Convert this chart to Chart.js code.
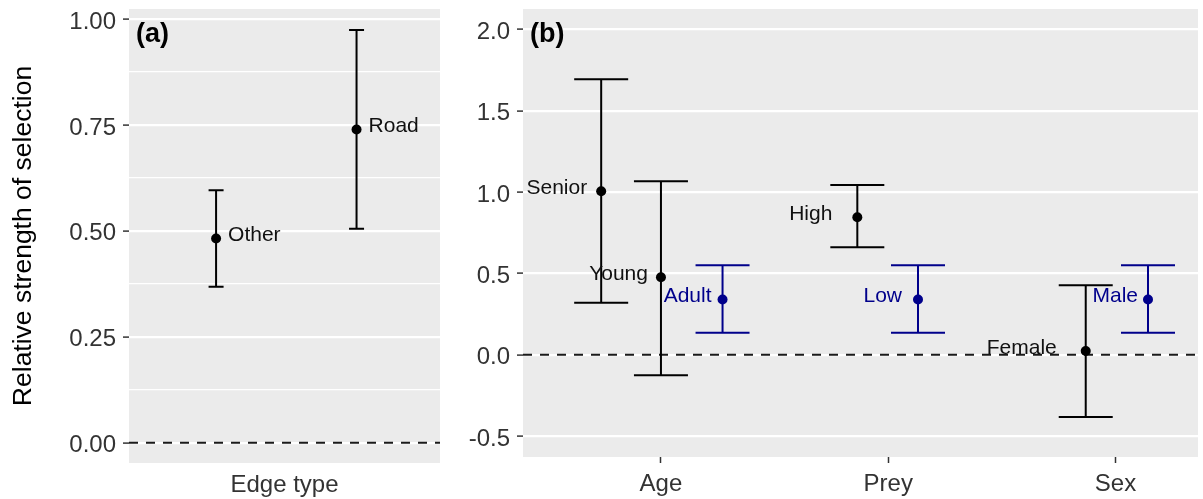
<!DOCTYPE html>
<html>
<head>
<meta charset="utf-8">
<script src="https://cdn.jsdelivr.net/npm/chart.js@4.4.1/dist/chart.umd.min.js"></script>
<style>
  html, body { margin: 0; padding: 0; background: #fff; }
  #wrap { position: relative; width: 1203px; height: 499px; }
  .panel { position: absolute; top: 0; height: 499px; }
  #panelA { left: 0; width: 460px; }
  #panelB { left: 460px; width: 743px; }
</style>
</head>
<body>
<div id="wrap">
  <div class="panel" id="panelA"><canvas id="edgeChart"></canvas></div>
  <div class="panel" id="panelB"><canvas id="factorChart"></canvas></div>
</div>
<script>
// (a) edge type
const edgeCategory = ['Edge type'];
const edgeLevels = ['Other', 'Road'];
const edgeEst = [0.482, 0.739];
const edgeLower = [0.368, 0.505];
const edgeUpper = [0.596, 0.974];
const edgeTicks = [0, 0.125, 0.25, 0.375, 0.5, 0.625, 0.75, 0.875, 1];

// (b) age / prey / sex
const factorCategories = ['Age', 'Prey', 'Sex'];
const levelNames = ['Senior', 'Young', 'Adult', 'High', 'Low', 'Female', 'Male'];
const levelFactor = [0, 0, 0, 1, 1, 2, 2];
const levelEst = [1.005, 0.477, 0.34, 0.845, 0.34, 0.023, 0.34];
const levelLower = [0.32, -0.125, 0.135, 0.661, 0.135, -0.382, 0.135];
const levelUpper = [1.693, 1.066, 0.55, 1.043, 0.55, 0.428, 0.55];
const levelIsRef = [false, false, true, false, true, false, true];
const factorTicks = [-0.5, 0, 0.5, 1, 1.5, 2];

// styling
const FONT = '"Liberation Sans", Arial, sans-serif';
const BLACK = '#000000';
const BLUE = '#00008B';
const TICK_TEXT = '#333333';
const edgeDodge = [-0.264, 0.278];
const levelDodge = [-0.263, 0, 0.271, -0.136, 0.131, -0.131, 0.143];
const levelLabelGap = [14, 13, 11, 25, 16, 29, 10];

const panelBackground = {
    id: 'panelBackground',
    beforeDraw(chart) {
        const { ctx, chartArea: a } = chart;
        ctx.save();
        ctx.fillStyle = '#EBEBEB';
        ctx.fillRect(a.left, a.top, a.right - a.left, a.bottom - a.top);
        ctx.restore();
    },
};

const zeroLine = {
    id: 'zeroLine',
    beforeDatasetsDraw(chart) {
        const { ctx, chartArea: a, scales } = chart;
        const y = scales.y.getPixelForValue(0);
        ctx.save();
        ctx.strokeStyle = '#1a1a1a';
        ctx.lineWidth = 2;
        ctx.setLineDash([9, 8]);
        ctx.beginPath();
        ctx.moveTo(a.left, y);
        ctx.lineTo(a.right, y);
        ctx.stroke();
        ctx.restore();
    },
};

const errorBars = {
    id: 'errorBars',
    beforeDatasetsDraw(chart, args, opts) {
        const { ctx, scales } = chart;
        chart.data.datasets[0].data.forEach(pt => {
            const x = scales.x.getPixelForValue(pt.x);
            const lo = scales.y.getPixelForValue(pt.lo);
            const hi = scales.y.getPixelForValue(pt.hi);
            ctx.save();
            ctx.strokeStyle = pt.color;
            ctx.lineWidth = 2;
            ctx.beginPath();
            ctx.moveTo(x, lo); ctx.lineTo(x, hi);
            ctx.moveTo(x - opts.capHalf, lo); ctx.lineTo(x + opts.capHalf, lo);
            ctx.moveTo(x - opts.capHalf, hi); ctx.lineTo(x + opts.capHalf, hi);
            ctx.stroke();
            ctx.restore();
        });
    },
    afterDatasetsDraw(chart) {
        const { ctx, scales } = chart;
        chart.data.datasets[0].data.forEach(pt => {
            const x = scales.x.getPixelForValue(pt.x);
            const y = scales.y.getPixelForValue(pt.y);
            ctx.save();
            ctx.font = '21px ' + FONT;
            ctx.fillStyle = pt.color === BLUE ? BLUE : '#111';
            ctx.textBaseline = 'middle';
            if (pt.side === 'right') {
                ctx.textAlign = 'left';
                ctx.fillText(pt.name, x + pt.gap, y - 3);
            } else {
                ctx.textAlign = 'right';
                ctx.fillText(pt.name, x - pt.gap, y - 3);
            }
            ctx.restore();
        });
    },
    afterDraw(chart, args, opts) {
        const { ctx, chartArea: a } = chart;
        ctx.save();
        ctx.font = 'bold 27px ' + FONT;
        ctx.fillStyle = BLACK;
        ctx.textBaseline = 'alphabetic';
        ctx.fillText(opts.tag, a.left + 7, a.top + 33);
        ctx.restore();
    },
};

function yScale(min, max, ticks, isMinor, fmt, width, title) {
    return {
        type: 'linear',
        min: min,
        max: max,
        afterBuildTicks: axis => { axis.ticks = ticks.map(v => ({ value: v })); },
        afterFit: scale => {
            scale.width = width;
            scale.paddingTop = 0;
            scale.paddingBottom = 0;
        },
        border: { display: false },
        grid: {
            color: '#FFFFFF',
            lineWidth: c => isMinor(c.tick.value) ? 1.3 : 2.2,
            tickColor: c => isMinor(c.tick.value) ? 'rgba(0,0,0,0)' : '#333333',
            tickLength: 6,
            tickWidth: 1.5,
        },
        ticks: {
            color: TICK_TEXT,
            font: { family: FONT, size: 24 },
            padding: 7,
            labelOffset: 3,
            callback: v => isMinor(v) ? '' : v.toFixed(fmt),
        },
        title: title ? {
            display: true,
            text: title,
            color: BLACK,
            font: { family: FONT, size: 26.5 },
            padding: { top: 8, bottom: 0 },
        } : { display: false },
    };
}

function xScale(min, max, labels, showTickMark, height, pad) {
    return {
        type: 'linear',
        min: min,
        max: max,
        afterBuildTicks: axis => { axis.ticks = labels.map((l, i) => ({ value: i + 1 })); },
        afterFit: scale => {
            scale.height = height;
            scale.paddingLeft = 0;
            scale.paddingRight = 0;
        },
        border: { display: false },
        grid: {
            drawOnChartArea: false,
            tickLength: 6,
            tickWidth: 1.5,
            tickColor: showTickMark ? '#333333' : 'rgba(0,0,0,0)',
        },
        ticks: {
            color: TICK_TEXT,
            font: { family: FONT, size: 24 },
            padding: pad,
            callback: v => labels[v - 1],
        },
    };
}

const edgePoints = edgeLevels.map((name, i) => ({
    x: 1 + edgeDodge[i], y: edgeEst[i], lo: edgeLower[i], hi: edgeUpper[i],
    name: name, color: BLACK, side: 'right', gap: 12,
}));

const levelPoints = levelNames.map((name, i) => ({
    x: levelFactor[i] + 1 + levelDodge[i], y: levelEst[i], lo: levelLower[i], hi: levelUpper[i],
    name: name, color: levelIsRef[i] ? BLUE : BLACK, side: 'left', gap: levelLabelGap[i],
}));

function makeChart(canvasId, points, x, y, padding, capHalf, tag) {
    return new Chart(document.getElementById(canvasId), {
        type: 'scatter',
        data: {
            datasets: [{
                data: points,
                pointRadius: 5,
                pointBorderWidth: 0,
                pointBackgroundColor: points.map(p => p.color),
                pointBorderColor: points.map(p => p.color),
            }],
        },
        options: {
            responsive: true,
            maintainAspectRatio: false,
            animation: false,
            layout: { padding: padding },
            plugins: {
                legend: { display: false },
                tooltip: { enabled: false },
                errorBars: { capHalf: capHalf, tag: tag },
            },
            scales: { x: x, y: y },
        },
        plugins: [panelBackground, zeroLine, errorBars],
    });
}

makeChart('edgeChart', edgePoints,
    xScale(0.4, 1.6, edgeCategory, false, 36, 2),
    yScale(-0.048, 1.0236, edgeTicks, v => Math.abs(v * 4 - Math.round(v * 4)) > 1e-6, 2, 129,
        'Relative strength of selection'),
    { top: 9, right: 20, left: 0, bottom: 0 }, 7.5, '(a)');

makeChart('factorChart', levelPoints,
    xScale(0.393, 3.363, factorCategories, true, 42, 7),
    yScale(-0.628, 2.125, factorTicks, v => false, 1, 63, null),
    { top: 9, right: 0, left: 0, bottom: 0 }, 27, '(b)');
</script>
</body>
</html>
